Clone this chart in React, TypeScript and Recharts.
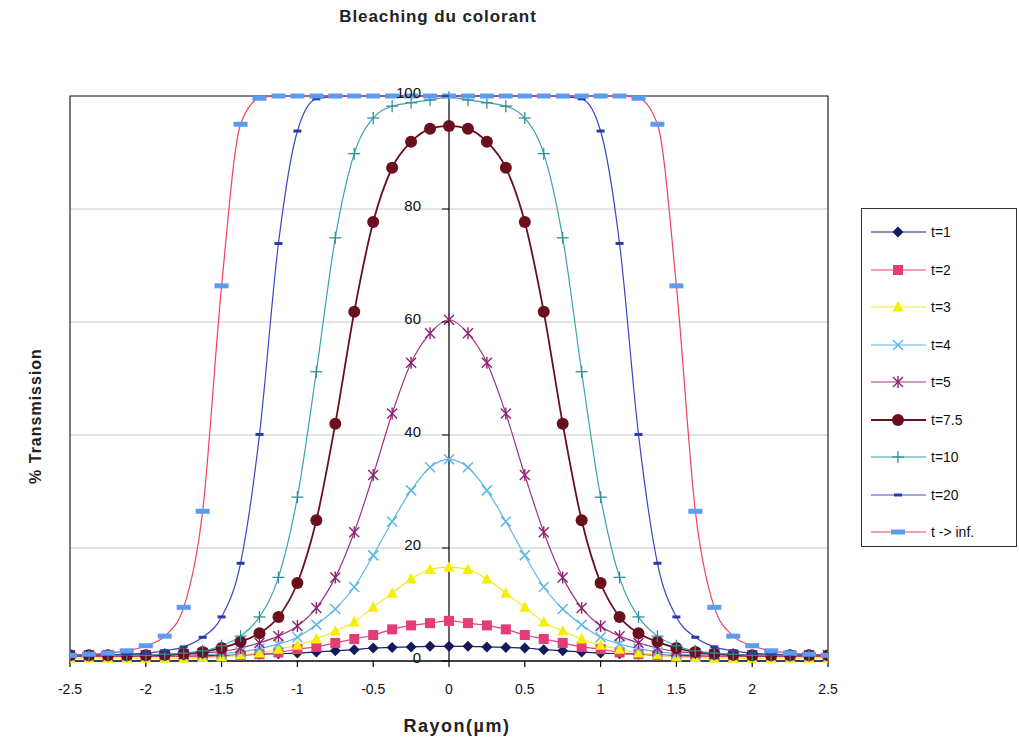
import React from 'react';
import { LineChart, Line, XAxis, YAxis, CartesianGrid, ReferenceLine, ReferenceArea } from 'recharts';

// Rayon (µm)
const RAYON = [-2.5, -2.375, -2.25, -2.125, -2, -1.875, -1.75, -1.625, -1.5, -1.375, -1.25, -1.125, -1, -0.875, -0.75, -0.625, -0.5, -0.375, -0.25, -0.125, 0, 0.125, 0.25, 0.375, 0.5, 0.625, 0.75, 0.875, 1, 1.125, 1.25, 1.375, 1.5, 1.625, 1.75, 1.875, 2, 2.125, 2.25, 2.375, 2.5];

// % Transmission for each time
const T1 = [1.0, 1.0, 1.0, 1.0, 1.0, 1.0, 1.0, 1.0, 1.0, 1.1, 1.2, 1.3, 1.4, 1.6, 1.8, 2.0, 2.3, 2.4, 2.5, 2.6, 2.6, 2.6, 2.5, 2.4, 2.3, 2.0, 1.8, 1.6, 1.4, 1.3, 1.2, 1.1, 1.0, 1.0, 1.0, 1.0, 1.0, 1.0, 1.0, 1.0, 1.0];
const T2 = [0.8, 0.8, 0.8, 0.8, 0.8, 0.8, 0.8, 0.8, 0.9, 1.0, 1.2, 1.5, 2.1, 2.5, 3.2, 3.9, 4.6, 5.6, 6.3, 6.7, 7.1, 6.7, 6.3, 5.6, 4.6, 3.9, 3.2, 2.5, 2.1, 1.5, 1.2, 1.0, 0.9, 0.8, 0.8, 0.8, 0.8, 0.8, 0.8, 0.8, 0.8];
const T3 = [0.5, 0.5, 0.5, 0.5, 0.5, 0.5, 0.5, 0.6, 0.7, 1.1, 1.4, 2.1, 2.8, 3.9, 5.3, 6.9, 9.5, 12.0, 14.5, 16.2, 16.6, 16.2, 14.5, 12.0, 9.5, 6.9, 5.3, 3.9, 2.8, 2.1, 1.4, 1.1, 0.7, 0.6, 0.5, 0.5, 0.5, 0.5, 0.5, 0.5, 0.5];
const T4 = [1.0, 1.0, 1.0, 1.0, 1.0, 1.0, 1.0, 1.1, 1.3, 1.6, 2.2, 3.0, 4.2, 6.4, 9.2, 13.1, 18.7, 24.7, 30.2, 34.3, 35.7, 34.3, 30.2, 24.7, 18.7, 13.1, 9.2, 6.4, 4.2, 3.0, 2.2, 1.6, 1.3, 1.1, 1.0, 1.0, 1.0, 1.0, 1.0, 1.0, 1.0];
const T5 = [1.0, 1.0, 1.0, 1.0, 1.0, 1.1, 1.2, 1.4, 1.7, 2.3, 3.2, 4.4, 6.2, 9.4, 14.8, 22.8, 32.9, 43.8, 52.8, 58.0, 60.4, 58.0, 52.8, 43.8, 32.9, 22.8, 14.8, 9.4, 6.2, 4.4, 3.2, 2.3, 1.7, 1.4, 1.2, 1.1, 1.0, 1.0, 1.0, 1.0, 1.0];
const T75 = [1.0, 1.0, 1.0, 1.0, 1.0, 1.1, 1.3, 1.6, 2.3, 3.4, 4.9, 7.8, 13.8, 24.9, 42.0, 61.8, 77.7, 87.3, 91.9, 94.2, 94.7, 94.2, 91.9, 87.3, 77.7, 61.8, 42.0, 24.9, 13.8, 7.8, 4.9, 3.4, 2.3, 1.6, 1.3, 1.1, 1.0, 1.0, 1.0, 1.0, 1.0];
const T10 = [1.0, 1.0, 1.0, 1.0, 1.0, 1.2, 1.4, 1.8, 2.7, 4.4, 7.8, 14.8, 29.0, 51.2, 74.9, 89.8, 96.1, 98.2, 98.8, 99.3, 99.8, 99.3, 98.8, 98.2, 96.1, 89.8, 74.9, 51.2, 29.0, 14.8, 7.8, 4.4, 2.7, 1.8, 1.4, 1.2, 1.0, 1.0, 1.0, 1.0, 1.0];
const T20 = [1.0, 1.0, 1.1, 1.2, 1.4, 1.8, 2.5, 4.2, 7.8, 17.3, 40.1, 73.9, 93.8, 99.5, 99.9, 100, 100, 100, 100, 100, 100, 100, 100, 100, 100, 100, 99.9, 99.5, 93.8, 73.9, 40.1, 17.3, 7.8, 4.2, 2.5, 1.8, 1.4, 1.2, 1.1, 1.0, 1.0];
const TINF = [1.0, 1.2, 1.4, 1.8, 2.7, 4.4, 9.5, 26.5, 66.4, 95.0, 99.6, 100, 100, 100, 100, 100, 100, 100, 100, 100, 100, 100, 100, 100, 100, 100, 100, 100, 100, 100, 99.6, 95.0, 66.4, 26.5, 9.5, 4.4, 2.7, 1.8, 1.4, 1.2, 1.0];

const SERIES_NAMES = ['t=1', 't=2', 't=3', 't=4', 't=5', 't=7.5', 't=10', 't=20', 't -> inf.'];
const X_TICKS = [-2.5, -2, -1.5, -1, -0.5, 0, 0.5, 1, 1.5, 2, 2.5];
const Y_TICKS = [0, 20, 40, 60, 80, 100];

const TITLE = 'Bleaching du colorant';
const X_LABEL = 'Rayon(µm)';
const Y_LABEL = '% Transmission';

const FONT = '"Liberation Sans", Arial, "DejaVu Sans", sans-serif';

const W = 1019;
const H = 747;
const PLOT_LEFT = 70;
const PLOT_RIGHT = 828;
const PLOT_TOP = 96;
const PLOT_BOTTOM = 661;
const PLOT_W = PLOT_RIGHT - PLOT_LEFT;
const AXIS_X = PLOT_LEFT + PLOT_W / 2;
const Y_AXIS_W = 10;

type Shape = 'diamond' | 'square' | 'triangle' | 'x' | 'star' | 'circle' | 'plus' | 'dash' | 'wideDash';

interface SeriesDef {
  key: string;
  name: string;
  values: number[];
  line: string;
  marker: string;
  shape: Shape;
  width: number;
}

const SERIES: SeriesDef[] = [
  { key: 't1', name: SERIES_NAMES[0], values: T1, line: '#1c1f66', marker: '#15185a', shape: 'diamond', width: 1.2 },
  { key: 't2', name: SERIES_NAMES[1], values: T2, line: '#e8407a', marker: '#e43c78', shape: 'square', width: 1.2 },
  { key: 't3', name: SERIES_NAMES[2], values: T3, line: '#f2ec10', marker: '#f5ef00', shape: 'triangle', width: 1.2 },
  { key: 't4', name: SERIES_NAMES[3], values: T4, line: '#5cb6e6', marker: '#5cb6e6', shape: 'x', width: 1.2 },
  { key: 't5', name: SERIES_NAMES[4], values: T5, line: '#a33383', marker: '#8c2472', shape: 'star', width: 1.2 },
  { key: 't75', name: SERIES_NAMES[5], values: T75, line: '#6a0f1e', marker: '#6a0f1e', shape: 'circle', width: 1.8 },
  { key: 't10', name: SERIES_NAMES[6], values: T10, line: '#3aa2aa', marker: '#2f8f9c', shape: 'plus', width: 1.2 },
  { key: 't20', name: SERIES_NAMES[7], values: T20, line: '#3a48c0', marker: '#2c3aa8', shape: 'dash', width: 1.2 },
  { key: 'tinf', name: SERIES_NAMES[8], values: TINF, line: '#f0405a', marker: '#5b9cf0', shape: 'wideDash', width: 1.2 },
];

const data = RAYON.map((x, i) => {
  const row: Record<string, number> = { x };
  SERIES.forEach((s) => {
    row[s.key] = s.values[i];
  });
  return row;
});

function Marker({ shape, cx, cy, color }: { shape: Shape; cx: number; cy: number; color: string }) {
  switch (shape) {
    case 'diamond':
      return <polygon points={`${cx},${cy - 5.5} ${cx + 5.5},${cy} ${cx},${cy + 5.5} ${cx - 5.5},${cy}`} fill={color} />;
    case 'square':
      return <rect x={cx - 5} y={cy - 5} width={10} height={10} fill={color} />;
    case 'triangle':
      return <polygon points={`${cx},${cy - 6} ${cx + 5.5},${cy + 4.5} ${cx - 5.5},${cy + 4.5}`} fill={color} />;
    case 'x':
      return (
        <g stroke={color} strokeWidth={1.5}>
          <line x1={cx - 5} y1={cy - 5} x2={cx + 5} y2={cy + 5} />
          <line x1={cx - 5} y1={cy + 5} x2={cx + 5} y2={cy - 5} />
        </g>
      );
    case 'star':
      return (
        <g stroke={color} strokeWidth={1.4}>
          <line x1={cx - 5} y1={cy - 5} x2={cx + 5} y2={cy + 5} />
          <line x1={cx - 5} y1={cy + 5} x2={cx + 5} y2={cy - 5} />
          <line x1={cx} y1={cy - 6} x2={cx} y2={cy + 6} />
        </g>
      );
    case 'circle':
      return <circle cx={cx} cy={cy} r={6} fill={color} />;
    case 'plus':
      return (
        <g stroke={color} strokeWidth={1.3}>
          <line x1={cx - 6} y1={cy} x2={cx + 6} y2={cy} />
          <line x1={cx} y1={cy - 6} x2={cx} y2={cy + 6} />
        </g>
      );
    case 'dash':
      return <rect x={cx - 4} y={cy - 1.5} width={8} height={3} fill={color} />;
    case 'wideDash':
      return <rect x={cx - 7} y={cy - 2.5} width={14} height={5} fill={color} />;
    default:
      return null;
  }
}

function makeDot(s: SeriesDef) {
  return (p: any) => {
    const k = `${s.key}-${p.index}`;
    if (p.cx == null || p.cy == null) return <g key={k} />;
    return (
      <g key={k}>
        <Marker shape={s.shape} cx={p.cx} cy={p.cy} color={s.marker} />
      </g>
    );
  };
}

function renderCenterYTick(props: any) {
  const { y, payload, index } = props;
  return (
    <g key={`yt-${index}`}>
      <line x1={AXIS_X - 7} x2={AXIS_X} y1={y} y2={y} stroke="#000" strokeWidth={1} />
      <text
        x={AXIS_X - 28}
        y={y - 4}
        textAnchor="end"
        dominantBaseline="central"
        fontSize={15}
        fontFamily={FONT}
        fill="#111"
      >
        {payload.value}
      </text>
    </g>
  );
}

function LegendBox() {
  return (
    <div
      style={{
        position: 'absolute',
        left: 861,
        top: 208,
        width: 156,
        height: 339,
        border: '1px solid #333',
        background: '#fff',
        boxSizing: 'border-box',
      }}
    >
      {SERIES.map((s, i) => (
        <div
          key={s.key}
          style={{
            position: 'absolute',
            left: 0,
            top: 23 + i * 37.5 - 10,
            height: 20,
            width: 156,
          }}
        >
          <svg width={64} height={20} style={{ position: 'absolute', left: 0, top: 0 }}>
            <line x1={9} x2={64} y1={10} y2={10} stroke={s.line} strokeWidth={s.width} />
            <Marker shape={s.shape} cx={36} cy={10} color={s.marker} />
          </svg>
          <span
            style={{
              position: 'absolute',
              left: 69,
              top: 0,
              lineHeight: '20px',
              fontSize: 14,
              fontFamily: FONT,
              color: '#111',
              whiteSpace: 'nowrap',
            }}
          >
            {s.name}
          </span>
        </div>
      ))}
    </div>
  );
}

export default function App() {
  return (
    <div style={{ position: 'absolute', left: 0, top: 0, width: W, height: H, background: '#fff', fontFamily: FONT }}>
      <LineChart
        width={W}
        height={H}
        data={data}
        margin={{ top: PLOT_TOP, left: PLOT_LEFT - Y_AXIS_W, right: W - PLOT_RIGHT, bottom: H - PLOT_BOTTOM - 30 }}
      >
        <CartesianGrid horizontal vertical={false} stroke="#c8c8c8" strokeWidth={1} />
        <XAxis
          dataKey="x"
          type="number"
          domain={[-2.5, 2.5]}
          ticks={X_TICKS}
          height={30}
          allowDataOverflow
          axisLine={{ stroke: '#000', strokeWidth: 1.2 }}
          tickLine={{ stroke: '#000', strokeWidth: 1.2 }}
          tickSize={6}
          tickMargin={17}
          tick={{ fontSize: 14, fill: '#111', fontFamily: FONT }}
        />
        <YAxis
          type="number"
          domain={[0, 100]}
          ticks={Y_TICKS}
          interval={0}
          width={Y_AXIS_W}
          axisLine={false}
          tickLine={false}
          tick={renderCenterYTick}
        />
        <ReferenceArea x1={-2.5} x2={2.5} y1={0} y2={100} fill="none" stroke="#222" strokeWidth={1.2} />
        <ReferenceLine x={0} stroke="#000" strokeWidth={1.2} />
        {SERIES.map((s) => (
          <Line
            key={s.key}
            dataKey={s.key}
            name={s.name}
            type="monotone"
            stroke={s.line}
            strokeWidth={s.width}
            dot={makeDot(s)}
            activeDot={false}
            isAnimationActive={false}
          />
        ))}
      </LineChart>

      <div
        style={{
          position: 'absolute',
          left: 288,
          top: 7,
          width: 300,
          textAlign: 'center',
          fontSize: 17,
          fontWeight: 'bold',
          letterSpacing: 0.9,
          color: '#222',
        }}
      >
        {TITLE}
      </div>

      <div
        style={{
          position: 'absolute',
          left: 36 - 100,
          top: 416 - 11,
          width: 200,
          height: 22,
          lineHeight: '22px',
          textAlign: 'center',
          transform: 'rotate(-90deg)',
          fontSize: 16,
          fontWeight: 'bold',
          letterSpacing: 1,
          color: '#222',
        }}
      >
        {Y_LABEL}
      </div>

      <div
        style={{
          position: 'absolute',
          left: 457 - 100,
          top: 716,
          width: 200,
          textAlign: 'center',
          fontSize: 18,
          fontWeight: 'bold',
          letterSpacing: 1.5,
          color: '#222',
        }}
      >
        {X_LABEL}
      </div>

      <LegendBox />
    </div>
  );
}
